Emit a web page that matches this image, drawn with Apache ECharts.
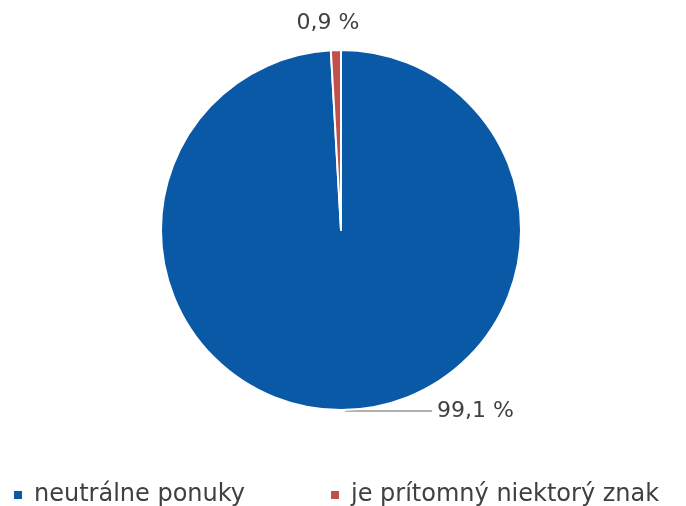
<!DOCTYPE html>
<html>
<head>
<meta charset="utf-8">
<script src="https://cdn.jsdelivr.net/npm/echarts@6/dist/echarts.min.js"></script>
<style>html,body{margin:0;padding:0;background:#fff;}#c{width:686px;height:506px;}</style>
</head>
<body>
<div id="c"></div>
<script>
var categories = ['neutrálne ponuky', 'je prítomný niektorý znak'];
var values = [99.1, 0.9];
var colors = ['#0a59a6', '#c0504d'];

var chart = echarts.init(document.getElementById('c'), null, {renderer: 'canvas'});
var FONT = 'DejaVu Sans';
var data = categories.map(function (n, i) {
  return {name: n, value: values[i], itemStyle: {color: colors[i]}};
});
chart.setOption({
  animation: false,
  legend: {
    data: categories,
    left: 7,
    top: 478,
    icon: 'rect',
    itemWidth: 10,
    itemHeight: 10,
    itemGap: 84,
    textStyle: {fontFamily: FONT, fontSize: 24, color: '#404040', padding: [0, 0, 0, 6]}
  },
  series: [{
    type: 'pie',
    center: [341, 230],
    radius: [0, 180],
    startAngle: 90,
    clockwise: true,
    avoidLabelOverlap: false,
    itemStyle: {borderColor: '#fff', borderWidth: 2},
    label: {
      show: true,
      position: 'outside',
      fontFamily: FONT,
      fontSize: 22,
      color: '#404040',
      formatter: function (p) { return p.value.toFixed(1).replace('.', ',') + ' %'; }
    },
    labelLine: {show: true, length: 1, length2: 86, smooth: false, lineStyle: {color: '#b0b0b0', width: 2}},
    labelLayout: function (params) {
      if (params.dataIndex === 1) {
        var p = params.labelLinePoints ? params.labelLinePoints[0] : [336, 50];
        return {x: p[0] - 8, y: p[1] - 27, align: 'center', verticalAlign: 'middle', hideOverlap: false};
      }
      return {};
    },
    data: [
      data[0],
      Object.assign({}, data[1], {labelLine: {show: false}})
    ]
  }]
});
</script>
</body>
</html>
